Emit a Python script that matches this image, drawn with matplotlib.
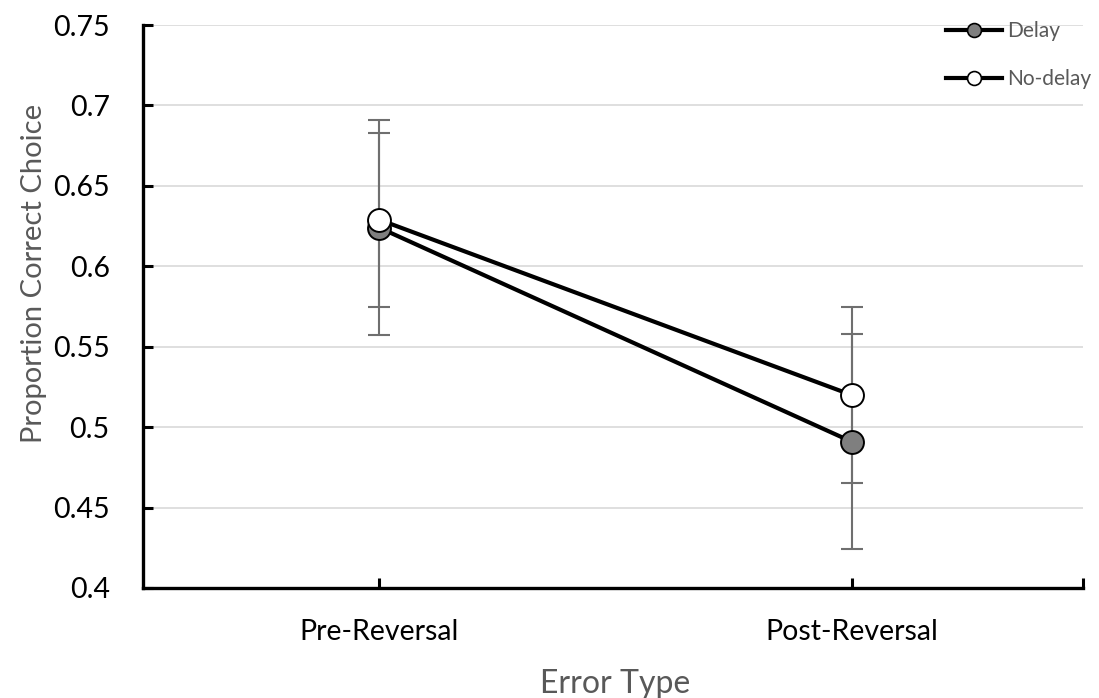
import matplotlib
matplotlib.use("Agg")
import matplotlib.pyplot as plt
from matplotlib.lines import Line2D

categories = ["Pre-Reversal", "Post-Reversal"]
delay = [0.624, 0.491]
delay_err = [0.067, 0.067]
nodelay = [0.629, 0.520]
nodelay_err = [0.054, 0.055]
yticks = [0.4, 0.45, 0.5, 0.55, 0.6, 0.65, 0.7, 0.75]

plt.rcParams['font.family'] = ['Lato', 'DejaVu Sans']

fig = plt.figure(figsize=(10.99, 6.98), dpi=100)
ax = fig.add_axes([143/1099, 1-588/698, 940/1099, (588-25)/698])

x = [0, 1]
gray = '#7f7f7f'
ax.errorbar(x, delay, yerr=delay_err, fmt='none', ecolor='#6f6f6f', elinewidth=1.5,
            capsize=8, capthick=1.5, zorder=2)
ax.errorbar(x, nodelay, yerr=nodelay_err, fmt='none', ecolor='#6f6f6f', elinewidth=1.5,
            capsize=8, capthick=1.5, zorder=2)
ax.plot(x, delay, color='black', lw=3.0, marker='o', markersize=16.5,
        markerfacecolor=gray, markeredgecolor='black', markeredgewidth=1.4, zorder=3)
ax.plot(x, nodelay, color='black', lw=3.0, marker='o', markersize=16.5,
        markerfacecolor='white', markeredgecolor='black', markeredgewidth=1.4, zorder=4)

ax.set_xlim(-0.5, 1.49)
ax.set_ylim(0.4, 0.75)
ax.set_yticks(yticks)
ax.set_yticklabels([f"{v:g}" for v in yticks])
ax.set_xticks([0, 1, 1.49])
ax.set_xticklabels(categories + [""])
ax.grid(axis='y', color='#d9d9d9', lw=1.2, zorder=0)
ax.set_axisbelow(True)
for s in ['top', 'right']:
    ax.spines[s].set_visible(False)
for s in ['left', 'bottom']:
    ax.spines[s].set_linewidth(2.4)
    ax.spines[s].set_color('black')
ax.tick_params(axis='both', direction='in', length=7, width=2.2, colors='black',
               labelsize=20.5)
ax.tick_params(axis='x', pad=22)
ax.tick_params(axis='y', pad=24)

ax.set_ylabel("Proportion Correct Choice", fontsize=21, color='#595959')
ax.yaxis.set_label_coords(-0.102, 0.558)
ax.set_xlabel("Error Type", fontsize=23, color='#595959')
ax.xaxis.set_label_coords(0.502, -0.143)

handles = [
    Line2D([], [], color='black', lw=3.0, marker='o', markersize=10,
           markerfacecolor=gray, markeredgecolor='black', markeredgewidth=1.2),
    Line2D([], [], color='black', lw=3.0, marker='o', markersize=10,
           markerfacecolor='white', markeredgecolor='black', markeredgewidth=1.2),
]
leg = fig.legend(handles, ["Delay", "No-delay"], loc='upper left',
                 bbox_to_anchor=(946/1099, 1-21/698), frameon=False,
                 borderaxespad=0, borderpad=0,
                 handlelength=2.7, handletextpad=0.24, labelspacing=1.35,
                 prop={'size': 15})
for t in leg.get_texts():
    t.set_color('#595959')

fig.savefig("out.png", dpi=100)
